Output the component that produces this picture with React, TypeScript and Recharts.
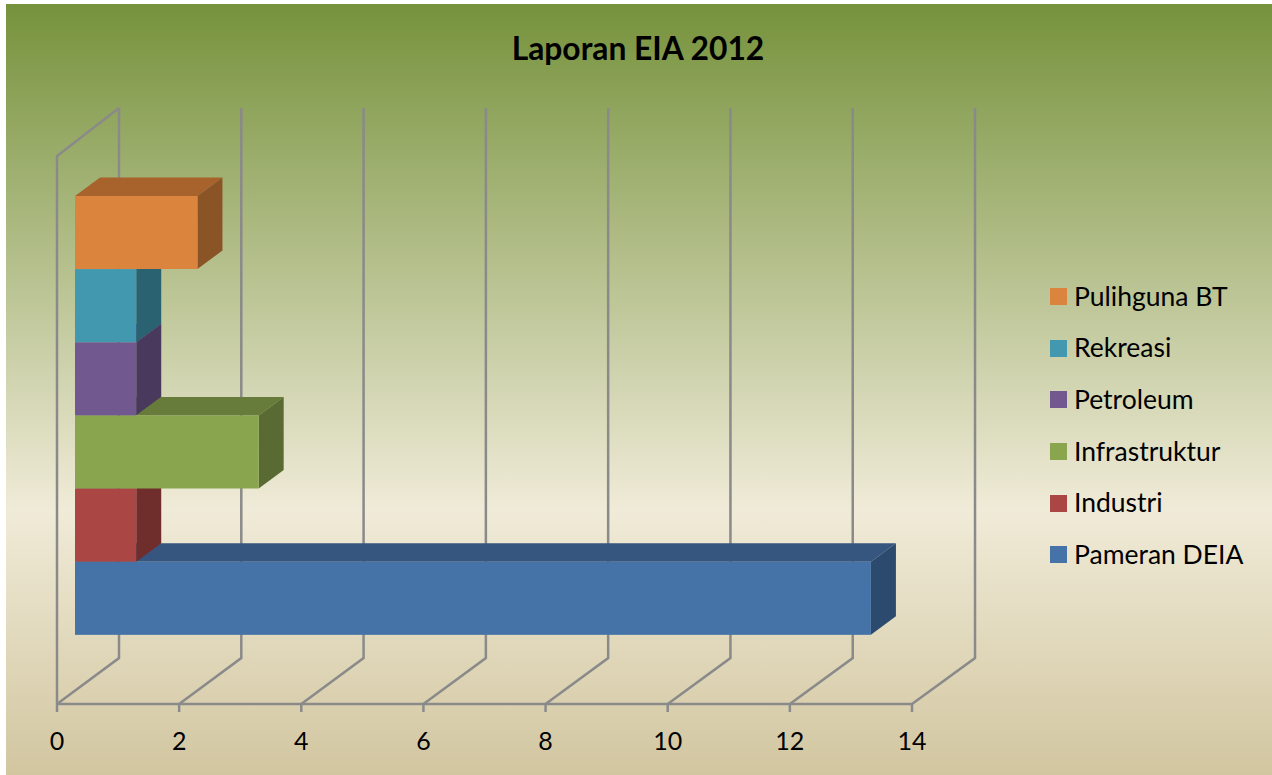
import { BarChart, Bar, XAxis, YAxis, CartesianGrid, Legend } from "recharts";

// Listed bottom bar first, which is also the order they get painted in
const categories = ["Pameran DEIA", "Industri", "Infrastruktur", "Petroleum", "Rekreasi", "Pulihguna BT"];
const values = [13, 1, 3, 1, 1, 2];
const xTicks = [0, 2, 4, 6, 8, 10, 12, 14];

const frontColors = ["#4572a7", "#aa4643", "#89a54e", "#71588f", "#4198af", "#db843d"];
const topColors = ["#365680", "#833634", "#677b3b", "#56436d", "#317385", "#a8632d"];
const sideColors = ["#2c4a6e", "#6f2d2b", "#596a33", "#49395d", "#2a6272", "#8b5426"];

const data = categories.map((name, i) => ({ name, value: values[i] }));

const FONT = "Lato, 'Open Sans', sans-serif";
const GRID = "#8a8a8a";

// Projection of the fake 3D box
const FLOOR_DX = 62;
const FLOOR_DY = 46;
const WALL_TOP = 108;
const BACK_STRETCH = 1.0012;
const BAR_SHIFT_X = 18;
const BAR_SHIFT_Y = 14.5;
const DEPTH_X = 25;
const DEPTH_Y = 18.5;
const PLOT_LEFT = 57;

function Bar3D(props: any) {
  const { x, y, width, height, index } = props;
  const left = x + BAR_SHIFT_X;
  const top = y - BAR_SHIFT_Y;
  const right = left + width * 1.0025;
  const bottom = top + height;
  return (
    <g>
      <polygon
        points={`${left},${top} ${left + DEPTH_X},${top - DEPTH_Y} ${right + DEPTH_X},${top - DEPTH_Y} ${right},${top}`}
        fill={topColors[index]}
      />
      <polygon
        points={`${right},${top} ${right + DEPTH_X},${top - DEPTH_Y} ${right + DEPTH_X},${bottom - DEPTH_Y} ${right},${bottom}`}
        fill={sideColors[index]}
      />
      <rect x={left} y={top} width={right - left} height={bottom - top} fill={frontColors[index]} />
    </g>
  );
}

// Each gridline runs back along the floor and then up the back wall
function GridLine(props: any) {
  const { x1, y2, y1, index } = props;
  const floorY = Math.max(y1, y2);
  const wallY = Math.min(y1, y2);
  const backX = PLOT_LEFT + FLOOR_DX + (x1 - PLOT_LEFT) * BACK_STRETCH;
  return (
    <g fill="none" stroke={GRID} strokeWidth={2.5}>
      <path d={`M${x1},${floorY} L${backX},${floorY - FLOOR_DY} L${backX},${WALL_TOP}`} />
      {index === 0 && <path d={`M${x1},${floorY} L${x1},${wallY} L${backX},${WALL_TOP}`} />}
    </g>
  );
}

function LegendList() {
  const rows = categories.map((name, i) => ({ name, color: frontColors[i] })).reverse();
  return (
    <div style={{ width: 222, fontFamily: FONT }}>
      {rows.map((r) => (
        <div key={r.name} style={{ display: "flex", alignItems: "center", height: 51.6 }}>
          <span style={{ width: 17, height: 17, background: r.color, marginRight: 7, flexShrink: 0 }} />
          <span style={{ fontSize: 26.5, color: "#000", whiteSpace: "nowrap", position: "relative", top: -1 }}>{r.name}</span>
        </div>
      ))}
    </div>
  );
}

export default function App() {
  return (
    <div style={{ position: "absolute", left: 0, top: 0, width: 1272, height: 775, background: "#fff", overflow: "hidden" }}>
      <div
        style={{
          position: "absolute",
          left: 6,
          top: 4,
          width: 1266,
          height: 771,
          background: "linear-gradient(180deg, #76923c 0%, #f0ebd8 65.6%, #d2c6a0 100%)",
        }}
      />
      <div
        style={{
          position: "absolute",
          left: 338,
          width: 600,
          top: 28,
          textAlign: "center",
          fontFamily: FONT,
          fontWeight: 700,
          fontSize: 31.8,
          lineHeight: "40px",
          color: "#000",
        }}
      >
        Laporan EIA 2012
      </div>
      <div style={{ position: "absolute", left: 0, top: 0 }}>
        <BarChart
          width={1272}
          height={775}
          layout="vertical"
          data={data}
          barCategoryGap={0}
          margin={{ top: 156, right: 138, bottom: 0, left: 57 }}
        >
          <CartesianGrid horizontal={false} vertical={GridLine} />
          <XAxis
            type="number"
            domain={[0, 14]}
            ticks={xTicks}
            interval={0}
            height={71}
            tickSize={8}
            tickMargin={20}
            axisLine={{ stroke: GRID, strokeWidth: 2.5 }}
            tickLine={{ stroke: GRID, strokeWidth: 2.5 }}
            tick={{ fontSize: 25, fill: "#000", fontFamily: FONT }}
          />
          <YAxis type="category" dataKey="name" reversed hide padding={{ top: 54.5, bottom: 54.5 }} />
          <Legend
            layout="vertical"
            align="right"
            verticalAlign="top"
            content={<LegendList />}
            wrapperStyle={{ left: 1050, top: 271, width: 222 }}
          />
          <Bar dataKey="value" isAnimationActive={false} shape={<Bar3D />} />
        </BarChart>
      </div>
    </div>
  );
}
